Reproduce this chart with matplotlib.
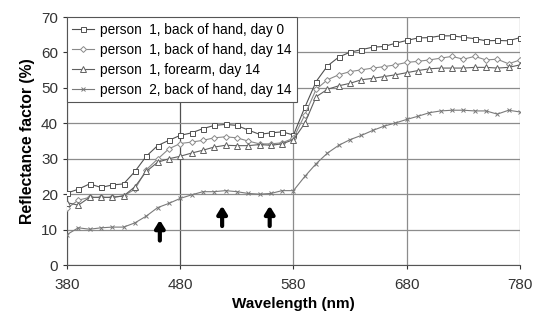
import numpy as np
import matplotlib
matplotlib.use('Agg')
import matplotlib.pyplot as plt

plt.rcParams['font.family'] = ['Liberation Sans', 'DejaVu Sans']

# wavelength (nm), every 10 nm
wl = list(range(380, 790, 10))

# person 1, back of hand, day 0
p1_hand_d0 = [20.3, 21.4, 22.9, 21.9, 22.6, 22.9, 26.4, 30.7, 33.7, 35.2,
              36.6, 37.3, 38.5, 39.4, 39.7, 39.4, 38.1, 36.9, 37.3, 37.6,
              36.7, 44.5, 51.8, 56.2, 58.7, 60.1, 60.8, 61.5, 61.7, 62.6,
              63.4, 64.1, 64.2, 64.7, 64.7, 64.3, 63.9, 63.3, 63.4, 63.3, 64.2]
# person 1, back of hand, day 14
p1_hand_d14 = [16.0, 18.3, 19.1, 19.1, 19.1, 19.5, 21.4, 26.9, 29.9, 32.8,
               34.3, 34.7, 35.2, 35.9, 36.2, 35.9, 35.0, 34.2, 34.2, 34.5,
               35.8, 42.4, 49.6, 52.3, 53.7, 54.6, 55.1, 55.6, 56.0, 56.5,
               57.2, 57.5, 57.9, 58.4, 58.9, 58.1, 58.9, 57.9, 58.1, 56.8, 57.9]
# person 1, forearm, day 14
p1_arm_d14 = [17.6, 16.9, 19.1, 19.1, 19.1, 19.5, 22.1, 26.4, 29.0, 30.0,
              30.7, 31.6, 32.4, 33.3, 33.8, 33.7, 33.7, 34.0, 33.8, 34.2,
              35.4, 40.0, 47.5, 49.6, 50.6, 51.3, 52.3, 52.7, 53.2, 53.7,
              54.3, 54.9, 55.4, 55.6, 55.6, 55.6, 55.8, 55.8, 55.6, 55.8, 56.5]
# person 2, back of hand, day 14
p2_hand_d14 = [8.6, 10.5, 10.1, 10.5, 10.7, 10.7, 11.9, 13.8, 16.2, 17.4,
               18.8, 19.8, 20.7, 20.7, 21.0, 20.7, 20.2, 20.0, 20.2, 21.0,
               21.0, 25.0, 28.6, 31.6, 33.8, 35.4, 36.6, 38.0, 39.2, 40.1,
               41.1, 42.0, 43.0, 43.5, 43.7, 43.7, 43.5, 43.5, 42.6, 43.7, 43.2]

labels = ['person  1, back of hand, day 0',
          'person  1, back of hand, day 14',
          'person  1, forearm, day 14',
          'person  2, back of hand, day 14']

# arrows: wavelength, tail, head
arrow_x = [462, 517, 559]
arrow_tail = [6.9, 11.0, 11.0]
arrow_head = [12.7, 16.7, 16.7]

fig = plt.figure(figsize=(5.38, 3.22), dpi=100)
ax = fig.add_axes([0.1245, 0.177, 0.842, 0.770])

series = [p1_hand_d0, p1_hand_d14, p1_arm_d14, p2_hand_d14]
markers = ['s', 'D', '^', 'x']
msizes = [3.6, 3.0, 3.8, 3.5]
colors = ['#505050', '#8a8a8a', '#606060', '#7a7a7a']
for y, m, ms, c, lab in zip(series, markers, msizes, colors, labels):
    ax.plot(wl, y, color=c, lw=0.8, marker=m, ms=ms, mfc='white',
            mec=c, mew=0.7, label=lab, zorder=3)

for xa, t, h in zip(arrow_x, arrow_tail, arrow_head):
    ax.annotate('', xy=(xa, h), xytext=(xa, t),
                arrowprops=dict(arrowstyle='-|>,head_width=0.28,head_length=0.45',
                                color='black', lw=3.0, shrinkA=0, shrinkB=0),
                zorder=4)

ax.set_xlim(380, 780)
ax.set_ylim(0, 70)
ax.set_xticks([380, 480, 580, 680, 780])
ax.set_yticks(range(0, 80, 10))
ax.grid(True, color='#8c8c8c', lw=0.9)
ax.get_xgridlines()[1].set_color('#505050')
ax.set_axisbelow(True)
for s in ['top', 'right']:
    ax.spines[s].set_visible(False)
ax.spines['left'].set_color('#555555')
ax.spines['bottom'].set_color('#555555')
ax.tick_params(labelsize=11, colors='#333333', length=3, width=0.8)
ax.tick_params(axis='x', pad=6)

ax.set_xlabel('Wavelength (nm)', fontsize=11, fontweight='bold', labelpad=4)
ax.set_ylabel('Reflectance factor (%)', fontsize=11.3, fontweight='bold', labelpad=4)

leg = ax.legend(loc='upper left', fontsize=9.8, frameon=True, fancybox=False,
                handlelength=1.6, handletextpad=0.4, borderpad=0.4,
                labelspacing=0.45, borderaxespad=0.0, edgecolor='#555555',
                framealpha=1)
leg.get_frame().set_linewidth(0.8)

plt.savefig('out.png', dpi=100)
